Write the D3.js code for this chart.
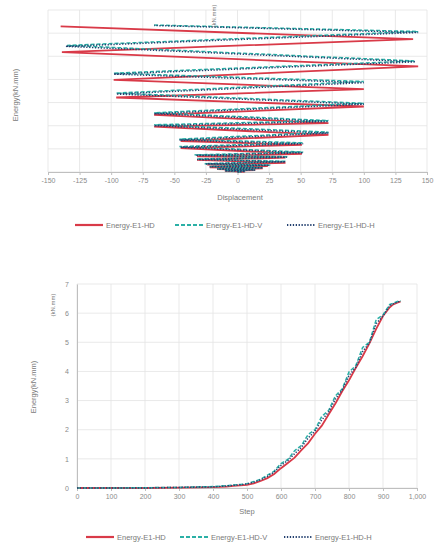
<!DOCTYPE html>
<html>
<head>
<meta charset="utf-8">
<script src="https://cdn.jsdelivr.net/npm/d3@7"></script>
<style>
  body { margin: 0; background: #fff; }
  svg { display: block; font-family: "Liberation Sans", Arial, sans-serif; }
  .grid line { stroke: #e3e3e3; stroke-width: 0.8; }
  .tick text { fill: #8a8a8a; font-size: 7px; }
  .lbl { fill: #7a7a7a; font-size: 7.5px; }
</style>
</head>
<body>
<div id="chart"></div>
<script>
// ---- top chart: cumulative energy vs displacement (zig-zag per cycle) ----
var dispTicks = [-150, -125, -100, -75, -50, -25, 0, 25, 50, 75, 100, 125, 150];
var seriesNames = ['Energy-E1-HD', 'Energy-E1-HD-V', 'Energy-E1-HD-H'];

var hdLoop = [[0,0],[6,0.02],[-10,0.05],[14,0.08],[-16,0.12],[20,0.16],[-22,0.2],[24,0.26],[-24,0.32],
  [38,0.4],[-32,0.52],[38,0.62],[-32,0.68],[51,0.78],[-45,1.03],[51,1.17],[-45,1.34],[72,1.6],[-66,1.96],
  [72,2.11],[-66,2.47],[100,2.83],[-96,3.22],[100,3.58],[-98,3.98],[143,4.56],[-139,5.18],[139,5.74],[-140,6.29]];
var hdvLoop = [[0,0],[6,0.03],[-10,0.06],[14,0.1],[-16,0.14],[20,0.19],[-22,0.24],[26,0.3],[-26,0.36],
  [38,0.46],[-32,0.56],[40,0.66],[-34,0.74],[52,0.86],[-46,1.1],[52,1.26],[-46,1.42],[72,1.72],[-66,2.04],
  [72,2.22],[-66,2.56],[100,2.97],[-96,3.41],[100,3.91],[-98,4.27],[140,4.8],[-135,5.47],[143,6.07],[-66,6.35]];
var hdhLoop = [[0,0],[6,0.03],[-10,0.05],[14,0.09],[-16,0.13],[20,0.18],[-22,0.23],[25,0.29],[-25,0.35],
  [38,0.44],[-32,0.54],[39,0.64],[-33,0.72],[52,0.83],[-45,1.07],[52,1.22],[-46,1.38],[72,1.68],[-66,2.0],
  [72,2.18],[-66,2.52],[100,2.93],[-96,3.37],[100,3.86],[-98,4.23],[141,4.76],[-136,5.43],[143,6.03],[-66,6.33]];

// ---- bottom chart: cumulative energy vs step ----
var steps = [0,100,200,300,400,440,460,480,500,520,540,560,580,600,620,640,660,680,700,720,740,760,780,800,820,840,860,880,900,920,930,942,952];
var hdEnergy  = [0,0,0,0.01,0.03,0.05,0.07,0.09,0.11,0.16,0.24,0.34,0.48,0.68,0.86,1.04,1.3,1.54,1.86,2.14,2.52,2.9,3.32,3.7,4.12,4.52,4.96,5.46,5.9,6.2,6.3,6.36,6.4];
var hdvEnergy = [0,0,0.01,0.02,0.05,0.08,0.1,0.12,0.15,0.22,0.3,0.44,0.58,0.84,0.98,1.28,1.46,1.84,2.0,2.46,2.66,3.16,3.4,3.98,4.2,4.82,5.0,5.78,5.94,6.3,6.34,6.4,6.42];
var hdhEnergy = [0,0,0,0.02,0.04,0.07,0.09,0.11,0.14,0.2,0.28,0.4,0.55,0.78,0.94,1.18,1.4,1.72,1.95,2.34,2.6,3.05,3.36,3.86,4.14,4.68,4.98,5.64,5.9,6.26,6.32,6.38,6.41];
var stepTicks = [0,100,200,300,400,500,600,700,800,900,1000];
var energyTicks = [0,1,2,3,4,5,6,7];

var colors = ['#d93a48', '#2bb0a6', '#23406f'];
var dashes = [null, '4,2', '1.3,1.6'];
var widths = [1.8, 1.5, 1.5];

var svg = d3.select('#chart').append('svg').attr('width', 437).attr('height', 547);

// plain hyphen instead of d3's unicode minus, like the excel export
var plainNum = function(d){ return String(d); };

// draws one of the two charts
var drawChart = function(opts) {
  var x = d3.scaleLinear().domain(opts.xDomain).range(opts.xRange);
  var y = d3.scaleLinear().domain([0, 7]).range(opts.yRange);
  var g = svg.append('g');

  // gridlines
  g.append('g').attr('class', 'grid').selectAll('line').data(opts.xTicks).enter().append('line')
    .attr('x1', function(d){ return x(d); }).attr('x2', function(d){ return x(d); })
    .attr('y1', opts.yRange[0]).attr('y2', opts.yRange[1]);
  g.append('g').attr('class', 'grid').selectAll('line').data(energyTicks).enter().append('line')
    .attr('x1', opts.xRange[0]).attr('x2', opts.xRange[1])
    .attr('y1', function(d){ return y(d); }).attr('y2', function(d){ return y(d); });

  var xAxis = g.append('g').attr('transform', 'translate(0,' + opts.yRange[0] + ')')
    .call(d3.axisBottom(x).tickValues(opts.xTicks).tickSize(3).tickFormat(opts.xFormat));
  xAxis.select('.domain').attr('stroke', '#bfbfbf');
  xAxis.selectAll('.tick line').attr('stroke', '#bfbfbf');

  if (opts.showY) {
    var yAxis = g.append('g').attr('transform', 'translate(' + opts.xRange[0] + ',0)')
      .call(d3.axisLeft(y).tickValues(energyTicks).tickSize(0).tickPadding(8).tickFormat(plainNum));
    yAxis.select('.domain').attr('stroke', '#bfbfbf');
  }

  var line = d3.line().x(function(d){ return x(d[0]); }).y(function(d){ return y(d[1]); });
  opts.series.forEach(function(s, i) {
    g.append('path').datum(s).attr('fill', 'none')
      .attr('stroke', colors[i]).attr('stroke-width', widths[i])
      .attr('stroke-dasharray', dashes[i]).attr('d', line);
  });

  g.append('text').attr('class', 'lbl').attr('x', opts.xTitle[1]).attr('y', opts.xTitle[2])
    .attr('text-anchor', 'middle').text(opts.xTitle[0]);
  g.append('text').attr('class', 'lbl').attr('text-anchor', 'middle')
    .attr('transform', 'translate(' + opts.yTitle[0] + ',' + opts.yTitle[1] + ') rotate(-90)')
    .text('Energy(kN.mm)');
  g.append('text').attr('class', 'lbl').attr('text-anchor', 'middle').style('font-size', '6px')
    .attr('transform', 'translate(' + opts.unit[0] + ',' + opts.unit[1] + ') rotate(-90)')
    .text('(kN.mm)');

  // legend
  var leg = g.selectAll('.leg').data(seriesNames).enter().append('g')
    .attr('transform', function(d, i){ return 'translate(' + opts.legendX[i] + ',' + opts.legendY + ')'; });
  leg.append('line').attr('x1', 0).attr('x2', 28).attr('y1', 0).attr('y2', 0)
    .attr('stroke', function(d, i){ return colors[i]; })
    .attr('stroke-width', function(d, i){ return i === 0 ? 2.2 : 1.8; })
    .attr('stroke-dasharray', function(d, i){ return dashes[i]; });
  leg.append('text').attr('class', 'lbl').attr('x', 31).attr('y', 2.5).text(function(d){ return d; });
};

drawChart({
  xDomain: [-150, 150], xRange: [48, 427], yRange: [172, 10],
  xTicks: dispTicks, xFormat: plainNum, showY: false,
  series: [hdLoop, hdvLoop, hdhLoop],
  xTitle: ['Displacement', 240, 200], yTitle: [18, 95], unit: [216, 16],
  legendX: [75, 175, 287], legendY: 225
});

drawChart({
  xDomain: [0, 1000], xRange: [77, 417], yRange: [488, 284],
  xTicks: stepTicks, xFormat: d3.format(','), showY: true,
  series: [steps.map(function(s, i){ return [s, hdEnergy[i]]; }),
           steps.map(function(s, i){ return [s, hdvEnergy[i]]; }),
           steps.map(function(s, i){ return [s, hdhEnergy[i]]; })],
  xTitle: ['Step', 247, 514], yTitle: [36, 387], unit: [55, 305],
  legendX: [86, 180, 284], legendY: 537
});
</script>
</body>
</html>
